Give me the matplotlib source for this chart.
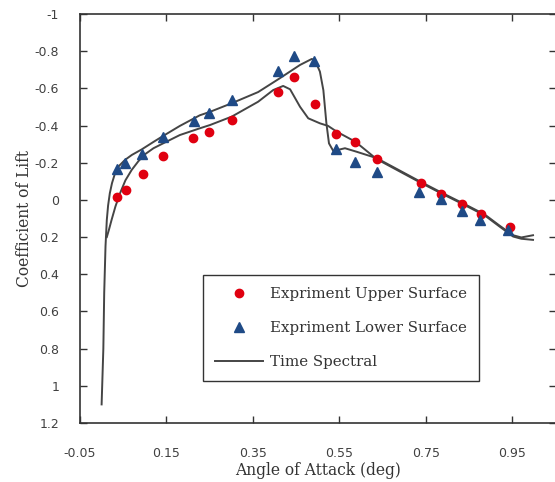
"""
Lift coefficient vs angle of attack: experiment vs time spectral
"""

import matplotlib
matplotlib.use('Agg')
import matplotlib.pyplot as plt

# experiment, upper surface (red circles)
upper_x = [0.036, 0.056, 0.095, 0.143, 0.212, 0.248, 0.301, 0.408, 0.445, 0.493,
           0.542, 0.587, 0.636, 0.738, 0.786, 0.833, 0.878, 0.944]
upper_cl = [-0.014, -0.053, -0.138, -0.236, -0.335, -0.367, -0.430, -0.582, -0.659, -0.514,
            -0.353, -0.313, -0.222, -0.093, -0.032, 0.022, 0.077, 0.147]

# experiment, lower surface (blue triangles)
lower_x = [0.035, 0.054, 0.093, 0.143, 0.214, 0.248, 0.301, 0.408, 0.445, 0.492,
           0.542, 0.587, 0.636, 0.734, 0.785, 0.833, 0.875, 0.940]
lower_cl = [-0.168, -0.200, -0.245, -0.337, -0.424, -0.466, -0.536, -0.695, -0.774, -0.746,
            -0.274, -0.206, -0.148, -0.044, -0.003, 0.058, 0.108, 0.162]

# time spectral loop, outer branch (from the bottom end up over the peak)
ts_a_x = [0.000, 0.004, 0.006, 0.009, 0.012, 0.015, 0.019, 0.024, 0.031, 0.040,
          0.054, 0.070, 0.093, 0.120, 0.143, 0.181, 0.227, 0.251, 0.301, 0.362,
          0.412, 0.459, 0.486, 0.493, 0.505, 0.513, 0.520, 0.526, 0.536, 0.563,
          0.590, 0.636, 0.700, 0.740, 0.790, 0.835, 0.875, 0.890, 0.921, 0.952,
          0.971, 0.998]
ts_a_cl = [1.100, 0.800, 0.500, 0.250, 0.108, 0.030, -0.036, -0.090, -0.143, -0.182,
           -0.215, -0.242, -0.272, -0.312, -0.345, -0.398, -0.455, -0.474, -0.520, -0.580,
           -0.654, -0.726, -0.758, -0.753, -0.690, -0.590, -0.412, -0.304, -0.263, -0.278,
           -0.259, -0.225, -0.145, -0.095, -0.035, 0.017, 0.065, 0.085, 0.139, 0.190,
           0.202, 0.190]

# time spectral loop, inner branch (through the upper-surface points)
ts_b_x = [0.012, 0.017, 0.023, 0.032, 0.0425, 0.055, 0.0695, 0.085, 0.100, 0.120,
          0.143, 0.181, 0.227, 0.251, 0.301, 0.362, 0.397, 0.420, 0.436, 0.459,
          0.478, 0.505, 0.524, 0.544, 0.587, 0.636, 0.700, 0.740, 0.790, 0.835,
          0.875, 0.890, 0.921, 0.952, 0.971, 0.998]
ts_b_cl = [0.200, 0.160, 0.108, 0.035, -0.035, -0.105, -0.161, -0.208, -0.245, -0.278,
           -0.305, -0.349, -0.385, -0.403, -0.448, -0.528, -0.591, -0.613, -0.595, -0.501,
           -0.439, -0.412, -0.398, -0.367, -0.313, -0.220, -0.140, -0.090, -0.030, 0.022,
           0.070, 0.090, 0.144, 0.197, 0.209, 0.215]

x_ticks = [-0.05, 0.15, 0.35, 0.55, 0.75, 0.95]
x_labels = ['-0.05', '0.15', '0.35', '0.55', '0.75', '0.95']
y_ticks = [-1, -0.8, -0.6, -0.4, -0.2, 0, 0.2, 0.4, 0.6, 0.8, 1, 1.2]
y_labels = ['-1', '-0.8', '-0.6', '-0.4', '-0.2', '0', '0.2', '0.4',
            '0.6', '0.8', '1', '1.2']

fig = plt.figure(figsize=(5.55, 4.82), dpi=100)
ax = fig.add_axes([80 / 555, 59 / 482, 475.5 / 555, 409 / 482])

line_col = '#454545'
ax.plot(upper_x, upper_cl, 'o', color='#e00010', ms=6, mec='#e00010',
        label='Expriment Upper Surface', zorder=3)
ax.plot(lower_x, lower_cl, '^', color='#1f4a86', ms=6.5, mec='#1f4a86',
        label='Expriment Lower Surface', zorder=3)
ax.plot(ts_a_x, ts_a_cl, '-', color=line_col, lw=1.4, label='Time Spectral', zorder=2)
ax.plot(ts_b_x, ts_b_cl, '-', color=line_col, lw=1.4, zorder=2)

ax.set_xlim(-0.05, 1.05)
ax.set_ylim(1.2, -1)
ax.set_xticks(x_ticks)
ax.set_xticklabels(x_labels)
ax.set_yticks(y_ticks)
ax.set_yticklabels(y_labels)
ax.tick_params(axis='both', direction='in', length=5, width=1, color='#333333',
               labelsize=9, labelcolor='#404040', top=True, right=True)
ax.tick_params(axis='x', pad=17)
ax.tick_params(axis='y', pad=15)
for s in ax.spines.values():
    s.set_color('#333333')
    s.set_linewidth(1.2)

ax.set_xlabel('Angle of Attack (deg)', family='DejaVu Serif', fontsize=11.2, color='#333333')
ax.xaxis.set_label_coords(0.5, -0.096)
ax.set_ylabel('Coefficient of Lift', family='DejaVu Serif', fontsize=11.2, color='#333333')
ax.yaxis.set_label_coords(-0.099, 0.5)

leg = ax.legend(loc='upper left', bbox_to_anchor=(0.366, 0.4295),
                bbox_transform=fig.transFigure, borderaxespad=0, fancybox=False,
                edgecolor='#333333', framealpha=1, handlelength=3.2,
                handletextpad=0.46, labelspacing=1.35, borderpad=0.8,
                prop={'family': 'DejaVu Serif', 'size': 10.8})
leg.get_frame().set_linewidth(1.0)
for t in leg.get_texts():
    t.set_color('#333333')

fig.savefig('out.png', dpi=100)
